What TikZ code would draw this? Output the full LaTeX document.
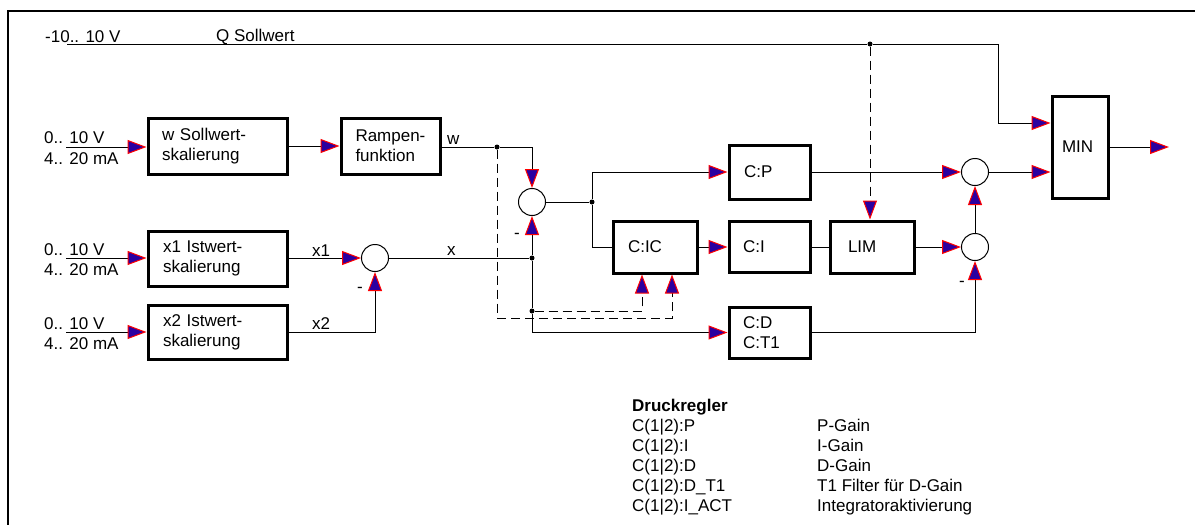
\documentclass[tikz,border=0pt]{standalone}
\usepackage{fontspec}
\setmainfont{Liberation Sans}
\usetikzlibrary{arrows.meta}
\definecolor{arrblue}{RGB}{43,0,160}
\definecolor{arrred}{RGB}{255,0,0}
\begin{document}
\begin{tikzpicture}[x=1pt,y=-1pt,
  every node/.style={font=\fontsize{17}{20}\selectfont},
  blk/.style={draw,line width=3pt,rectangle,inner ysep=0pt,align=left},
  sum/.style={circle,draw,line width=1pt,minimum size=27pt,inner sep=0pt},
  dot/.style={circle,fill=black,inner sep=0pt,minimum size=5pt},
  lbl/.style={inner sep=0pt,anchor=base west},
  conn/.style={draw,line width=1pt},
  dsh/.style={draw,line width=1pt,dash pattern=on 9pt off 5pt},
  arr/.style={-{Triangle[length=19pt,width=14pt,color=arrred,fill=arrblue,line width=1pt]}}]
\useasboundingbox (0,0) rectangle (1195,525);
% frame
\draw[line width=2.5pt] (8,525) -- (8,11) -- (1195,11);

% blocks
\node[blk,text width=111pt,inner xsep=14pt,minimum height=56pt] (ws) at (217.5,146) {w Sollwert-\\skalierung};
\node[blk,text width=70pt,inner xsep=14.5pt,minimum height=56pt] (ramp) at (390.5,146) {Rampen-\\funktion};
\node[blk,text width=109pt,inner xsep=15pt,minimum height=55pt] (x1b) at (217.5,258.5) {x1 Istwert-\\skalierung};
\node[blk,text width=109pt,inner xsep=15pt,minimum height=54pt] (x2b) at (217.5,332) {x2 Istwert-\\skalierung};
\node[blk,text width=51pt,inner xsep=15pt,minimum height=54pt] (cp) at (769.5,172) {C:P};
\node[blk,text width=53pt,inner xsep=14pt,minimum height=51pt] (ci) at (769.5,247) {C:I};
\node[blk,text width=53pt,inner xsep=14pt,minimum height=51pt] (cd) at (769.5,332.5) {C:D\\C:T1};
\node[blk,text width=54pt,inner xsep=15pt,minimum height=52pt] (cic) at (655,247) {C:IC};
\node[blk,text width=48pt,inner xsep=18pt,minimum height=52pt] (lim) at (872,247) {LIM};
\node[blk,text width=36pt,inner xsep=10pt,minimum height=102pt] (min) at (1080,147) {MIN};

% summing points
\node[sum] (sx) at (375,258) {};
\node[sum] (se) at (532,202) {};
\node[sum] (s1) at (975,172) {};
\node[sum] (s2) at (975,247) {};

% junctions and free ends
\node[dot] (qj) at (870,44) {};
\node[dot] (wj) at (497,147) {};
\node[dot] (xj) at (532,258) {};
\node[dot] (dj) at (532,311) {};
\node[dot] (ej) at (592,202) {};
\coordinate (q0) at (67,44);
\coordinate (qin) at (998,123);
\coordinate (wd) at (497,318);
\coordinate (i1) at (66,147);
\coordinate (i2) at (66,258);
\coordinate (i3) at (66,332);
\coordinate (out) at (1169,147);

% texts
\node[lbl] at (45,42) {-10.. 10 V};
\node[lbl] at (216,41) {Q Sollwert};
\node[lbl] at (44,143) {0.. 10 V};
\node[lbl] at (44,164) {4.. 20 mA};
\node[lbl] at (44,255) {0.. 10 V};
\node[lbl] at (44,275) {4.. 20 mA};
\node[lbl] at (44,329) {0.. 10 V};
\node[lbl] at (44,349) {4.. 20 mA};
\node[lbl] at (447,144) {w};
\node[lbl] at (447,255) {x};
\node[lbl] at (312,256) {x1};
\node[lbl] at (312,329) {x2};
\node[inner sep=0pt] at (360,290) {-};
\node[inner sep=0pt] at (517,236) {-};
\node[inner sep=0pt] at (962,284) {-};

% connectors
\draw[conn,arr] (i1) -- (i1 -| ws.west);
\draw[conn,arr] (i2) -- (i2 -| x1b.west);
\draw[conn,arr] (i3) -- (i3 -| x2b.west);
\draw[conn,arr] (ws) -- (ramp);
\draw[conn] (ramp.east |- wj) -- (wj);
\draw[conn,arr] (wj) -| (se.north);
\draw[conn,arr] (x1b.east |- sx) -- (sx.west);
\draw[conn,arr] (x2b.east) -| (sx.south);
\draw[conn] (sx.east) -- (xj);
\draw[conn,arr] (xj) -- (se.south);
\draw[conn] (xj) -- (dj);
\draw[conn,arr] (dj) |- (cd.west);
\draw[conn] (se.east) -- (ej);
\draw[conn,arr] (ej) |- (cp.west);
\draw[conn] (ej) |- (cic.west);
\draw[conn,arr] (cic) -- (ci);
\draw[conn] (ci) -- (lim);
\draw[conn,arr] (lim) -- (s2);
\draw[conn,arr] (cp) -- (s1);
\draw[conn,arr] (s2) -- (s1);
\draw[conn,arr] (cd.east) -| (s2.south);
\draw[conn,arr] (s1.east) -- (s1.east -| min.west);
\draw[conn] (q0) -- (qj);
\draw[conn,arr] (qj) -| (qin) -- (qin -| min.west);
\draw[dsh,arr] (qj) -- (qj |- lim.north);
\draw[conn,arr] (min.east |- out) -- (out);
\draw[dsh,arr] (dj) -| ([xshift=-13pt]cic.south);
\draw[dsh] (wj) -- (wd);
\draw[dsh,arr] (wd) -| ([xshift=17pt]cic.south);

% legend
\node[lbl] (legend) at (632,411) {%
\begin{tabular}[t]{@{}p{185pt}@{}l@{}}
\textbf{Druckregler} & \\
C(1|2):P & P-Gain\\
C(1|2):I & I-Gain\\
C(1|2):D & D-Gain\\
C(1|2):D\_T1 & T1 Filter für D-Gain\\
C(1|2):I\_ACT & Integratoraktivierung
\end{tabular}};
\end{tikzpicture}
\end{document}
